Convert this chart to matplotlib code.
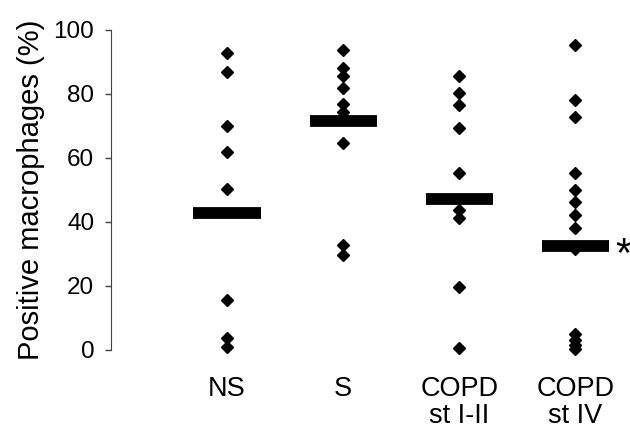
import numpy as np
import matplotlib.pyplot as plt

plt.rcParams['font.family'] = ['Liberation Sans', 'DejaVu Sans']

groups = ['NS', 'S', 'COPD\nst I-II', 'COPD\nst IV']

ns = [92.9, 87.0, 70.0, 62.0, 50.2, 15.6, 3.6, 1.0]
s = [93.7, 88.0, 85.6, 81.8, 76.9, 74.5, 64.8, 32.8, 29.7]
copd12 = [85.6, 80.2, 76.6, 69.3, 55.2, 43.8, 41.2, 19.8, 0.5]
copd4 = [95.3, 78.1, 72.9, 55.2, 50.0, 46.3, 42.2, 38.0, 31.5, 5.0, 3.0, 1.5, 0.3]
medians = [42.7, 71.6, 47.1, 32.5]

data = [ns, s, copd12, copd4]

fig = plt.figure(figsize=(6.3, 4.33), dpi=100)
ax = fig.add_axes([111 / 630, 83 / 433, 519 / 630, 320 / 433])

for i, vals in enumerate(data):
    x = np.full(len(vals), i + 1)
    ax.plot(x, vals, 'D', color='black', markersize=6.5, clip_on=False, zorder=3)

xpos = np.arange(1, len(groups) + 1)
ax.hlines(medians, xpos - 0.29, xpos + 0.29, color='black', linewidth=8.5,
          zorder=4)

# significance mark next to last median
ax.text(4.34, medians[3] - 3, '*', fontsize=30, ha='left', va='center')

ax.set_xlim(0, 4.47)
ax.set_ylim(0, 100)
ax.set_yticks([0, 20, 40, 60, 80, 100])
ax.set_xticks(xpos)
ax.set_xticklabels(groups, fontsize=19.5, linespacing=1.05)
ax.tick_params(axis='x', length=0, pad=19)
ax.tick_params(axis='y', labelsize=17.5, length=4, width=1, color='#404040',
               direction='out', pad=8)
ax.set_ylabel('Positive macrophages (%)', fontsize=21, labelpad=6)

for side in ['top', 'right', 'bottom']:
    ax.spines[side].set_visible(False)
ax.spines['left'].set_color('#404040')

fig.savefig('out.png', dpi=100)
